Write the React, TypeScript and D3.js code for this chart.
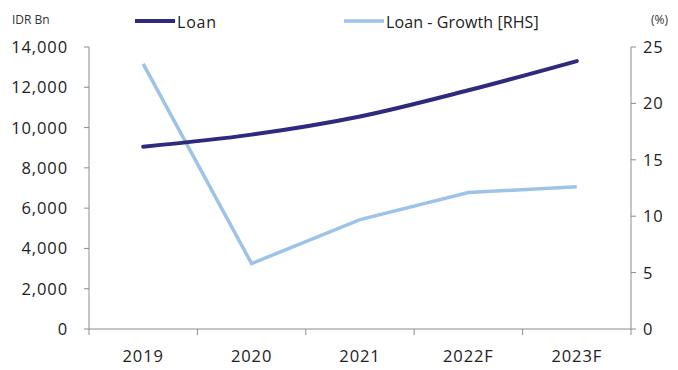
import React from "react";
import * as d3 from "d3";

const categories = ["2019", "2020", "2021", "2022F", "2023F"];
const loan = [9050, 9650, 10550, 11850, 13300];
const growth = [23.5, 5.8, 9.7, 12.1, 12.6];
const leftTicks = [0, 2000, 4000, 6000, 8000, 10000, 12000, 14000];
const rightTicks = [0, 5, 10, 15, 20, 25];

const W = 678, H = 370;
const M = { left: 89, right: 631, top: 47, bottom: 329 };
const FONT = "'Open Sans', 'Liberation Sans', sans-serif";
const AXIS = "#8c8c8c";
const FS = 16.5;
const LS = 0.9;

export default function App() {
  const x = d3.scaleBand<string>().domain(categories).range([M.left, M.right]);
  const yL = d3.scaleLinear().domain([0, 14000]).range([M.bottom, M.top]);
  const yR = d3.scaleLinear().domain([0, 25]).range([M.bottom, M.top]);
  const cx = (c: string) => (x(c) as number) + x.bandwidth() / 2;

  const loanLine = d3
    .line<number>()
    .x((_, i) => cx(categories[i]))
    .y((d) => yL(d))
    .curve(d3.curveMonotoneX)(loan) as string;
  const growthLine = d3
    .line<number>()
    .x((_, i) => cx(categories[i]))
    .y((d) => yR(d))(growth) as string;

  const fmt = d3.format(",");
  const bounds = [...categories.map((c) => x(c) as number), M.right];

  return (
    <div style={{ margin: -8 }}>
      <svg width={W} height={H} style={{ display: "block", background: "#fff" }} fontFamily={FONT}>
        {/* left axis */}
        <line x1={M.left} x2={M.left} y1={M.top} y2={M.bottom} stroke={AXIS} />
        {leftTicks.map((t) => (
          <g key={"l" + t}>
            <line x1={M.left - 5} x2={M.left} y1={yL(t)} y2={yL(t)} stroke={AXIS} />
            <text x={68} y={yL(t)} dy="0.36em" textAnchor="end" fontSize={FS} letterSpacing={LS} fill="#222">
              {fmt(t)}
            </text>
          </g>
        ))}
        {/* right axis */}
        <line x1={M.right} x2={M.right} y1={M.top} y2={M.bottom} stroke={AXIS} />
        {rightTicks.map((t) => (
          <g key={"r" + t}>
            <line x1={M.right} x2={M.right + 5} y1={yR(t)} y2={yR(t)} stroke={AXIS} />
            <text x={M.right + 12} y={yR(t)} dy="0.36em" textAnchor="start" fontSize={FS} letterSpacing={LS} fill="#222">
              {t}
            </text>
          </g>
        ))}
        {/* x axis */}
        <line x1={M.left} x2={M.right} y1={M.bottom} y2={M.bottom} stroke={AXIS} />
        {bounds.map((b, i) => (
          <line key={"b" + i} x1={b} x2={b} y1={M.bottom} y2={M.bottom + 6} stroke={AXIS} />
        ))}
        {categories.map((c) => (
          <text key={c} x={cx(c)} y={362} textAnchor="middle" fontSize={FS} letterSpacing={LS} fill="#222">
            {c}
          </text>
        ))}
        {/* series */}
        <path d={growthLine} fill="none" stroke="#9dc3e6" strokeWidth={3.5} />
        <path d={loanLine} fill="none" stroke="#2e2a7e" strokeWidth={4} strokeLinecap="round" />
        {/* labels */}
        <text x={12} y={24} fontSize={12} fill="#333">IDR Bn</text>
        <text x={651} y={24} fontSize={12} fill="#333">(%)</text>
        {/* legend */}
        <line x1={135} x2={175} y1={21} y2={21} stroke="#2e2a7e" strokeWidth={4} />
        <text x={177} y={28} fontSize={16} letterSpacing={0.8} fill="#222">Loan</text>
        <line x1={344} x2={384} y1={21} y2={21} stroke="#9dc3e6" strokeWidth={3.5} />
        <text x={386} y={28} fontSize={16} letterSpacing={0.1} fill="#222">Loan - Growth [RHS]</text>
      </svg>
    </div>
  );
}
